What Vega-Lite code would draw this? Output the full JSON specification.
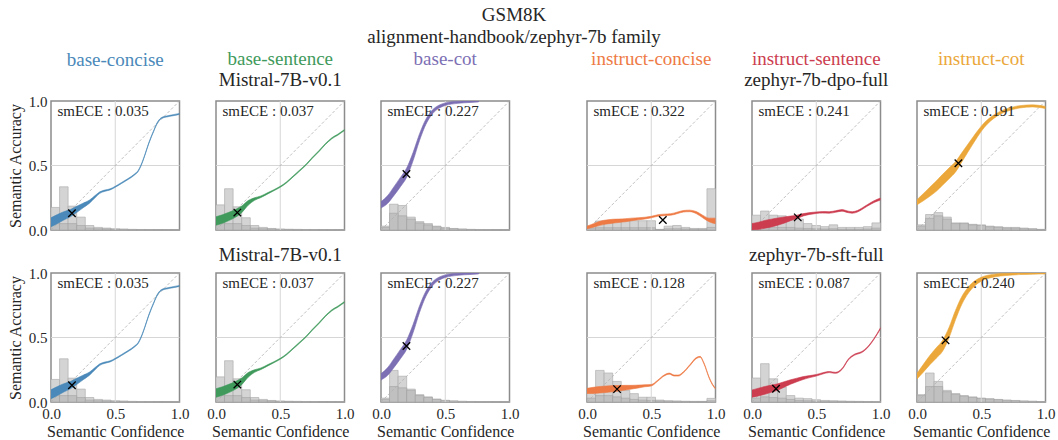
{
"$schema": "https://vega.github.io/schema/vega-lite/v6.json",
"background": "white",
"padding": {"left": 6, "top": 5, "right": 5, "bottom": 0},
"title": {"text": ["GSM8K", "alignment-handbook/zephyr-7b family"], "fontSize": 19, "lineHeight": 22, "offset": 2, "dx": -17, "color": "#262626", "anchor": "middle", "font": "Liberation Serif"},
"datasets": {
"hist": [
{"k":"bc","x0":0,"x1":0.0667,"h":0.175,"d":0.05},{"k":"bc","x0":0.0667,"x1":0.1333,"h":0.335,"d":0.05},{"k":"bc","x0":0.1333,"x1":0.2,"h":0.185,"d":0.05},{"k":"bc","x0":0.2,"x1":0.2667,"h":0.1,"d":0.035},{"k":"bc","x0":0.2667,"x1":0.3333,"h":0.035,"d":0.015},{"k":"bc","x0":0.3333,"x1":0.4,"h":0.02,"d":0.01},{"k":"bc","x0":0.4,"x1":0.4667,"h":0.015,"d":0.008},{"k":"bc","x0":0.4667,"x1":0.5333,"h":0.01,"d":0.005},{"k":"bc","x0":0.5333,"x1":0.6,"h":0.008,"d":0.004},{"k":"bc","x0":0.6,"x1":0.6667,"h":0.005,"d":0.003},{"k":"bc","x0":0.6667,"x1":0.7333,"h":0.004,"d":0.002},{"k":"bc","x0":0.7333,"x1":0.8,"h":0.003,"d":0.002},{"k":"bc","x0":0.8,"x1":0.8667,"h":0.002,"d":0.001},{"k":"bc","x0":0.8667,"x1":0.9333,"h":0.002,"d":0.001},{"k":"bc","x0":0.9333,"x1":1,"h":0.001,"d":0.001},
{"k":"bs","x0":0,"x1":0.0667,"h":0.195,"d":0.05},{"k":"bs","x0":0.0667,"x1":0.1333,"h":0.32,"d":0.05},{"k":"bs","x0":0.1333,"x1":0.2,"h":0.18,"d":0.05},{"k":"bs","x0":0.2,"x1":0.2667,"h":0.095,"d":0.035},{"k":"bs","x0":0.2667,"x1":0.3333,"h":0.035,"d":0.015},{"k":"bs","x0":0.3333,"x1":0.4,"h":0.02,"d":0.01},{"k":"bs","x0":0.4,"x1":0.4667,"h":0.012,"d":0.008},{"k":"bs","x0":0.4667,"x1":0.5333,"h":0.008,"d":0.005},{"k":"bs","x0":0.5333,"x1":0.6,"h":0.006,"d":0.004},{"k":"bs","x0":0.6,"x1":0.6667,"h":0.005,"d":0.003},{"k":"bs","x0":0.6667,"x1":0.7333,"h":0.004,"d":0.002},{"k":"bs","x0":0.7333,"x1":0.8,"h":0.003,"d":0.002},{"k":"bs","x0":0.8,"x1":0.8667,"h":0.002,"d":0.001},{"k":"bs","x0":0.8667,"x1":0.9333,"h":0.002,"d":0.001},{"k":"bs","x0":0.9333,"x1":1,"h":0.001,"d":0.001},
{"k":"bt","x0":0,"x1":0.0667,"h":0.03,"d":0.02},{"k":"bt","x0":0.0667,"x1":0.1333,"h":0.2,"d":0.13},{"k":"bt","x0":0.1333,"x1":0.2,"h":0.19,"d":0.11},{"k":"bt","x0":0.2,"x1":0.2667,"h":0.1,"d":0.085},{"k":"bt","x0":0.2667,"x1":0.3333,"h":0.065,"d":0.055},{"k":"bt","x0":0.3333,"x1":0.4,"h":0.05,"d":0.04},{"k":"bt","x0":0.4,"x1":0.4667,"h":0.03,"d":0.025},{"k":"bt","x0":0.4667,"x1":0.5333,"h":0.02,"d":0.015},{"k":"bt","x0":0.5333,"x1":0.6,"h":0.012,"d":0.01},{"k":"bt","x0":0.6,"x1":0.6667,"h":0.008,"d":0.006},{"k":"bt","x0":0.6667,"x1":0.7333,"h":0.005,"d":0.004},{"k":"bt","x0":0.7333,"x1":0.8,"h":0.004,"d":0.003},{"k":"bt","x0":0.8,"x1":0.8667,"h":0.003,"d":0.002},{"k":"bt","x0":0.8667,"x1":0.9333,"h":0.002,"d":0.001},{"k":"bt","x0":0.9333,"x1":1,"h":0.001,"d":0.001},
{"k":"bt2","x0":0,"x1":0.0667,"h":0.03,"d":0.02},{"k":"bt2","x0":0.0667,"x1":0.1333,"h":0.245,"d":0.12},{"k":"bt2","x0":0.1333,"x1":0.2,"h":0.2,"d":0.11},{"k":"bt2","x0":0.2,"x1":0.2667,"h":0.1,"d":0.09},{"k":"bt2","x0":0.2667,"x1":0.3333,"h":0.057,"d":0.05},{"k":"bt2","x0":0.3333,"x1":0.4,"h":0.04,"d":0.035},{"k":"bt2","x0":0.4,"x1":0.4667,"h":0.023,"d":0.02},{"k":"bt2","x0":0.4667,"x1":0.5333,"h":0.013,"d":0.012},{"k":"bt2","x0":0.5333,"x1":0.6,"h":0.008,"d":0.008},{"k":"bt2","x0":0.6,"x1":0.6667,"h":0.005,"d":0.005},{"k":"bt2","x0":0.6667,"x1":0.7333,"h":0.004,"d":0.004},{"k":"bt2","x0":0.7333,"x1":0.8,"h":0.003,"d":0.003},{"k":"bt2","x0":0.8,"x1":0.8667,"h":0.002,"d":0.002},{"k":"bt2","x0":0.8667,"x1":0.9333,"h":0.001,"d":0.001},{"k":"bt2","x0":0.9333,"x1":1,"h":0.001,"d":0.001},
{"k":"dc","x0":0,"x1":0.0667,"h":0.03,"d":0.015},{"k":"dc","x0":0.0667,"x1":0.1333,"h":0.07,"d":0.018},{"k":"dc","x0":0.1333,"x1":0.2,"h":0.072,"d":0.018},{"k":"dc","x0":0.2,"x1":0.2667,"h":0.072,"d":0.018},{"k":"dc","x0":0.2667,"x1":0.3333,"h":0.072,"d":0.018},{"k":"dc","x0":0.3333,"x1":0.4,"h":0.072,"d":0.018},{"k":"dc","x0":0.4,"x1":0.4667,"h":0.072,"d":0.018},{"k":"dc","x0":0.4667,"x1":0.5333,"h":0.072,"d":0.018},{"k":"dc","x0":0.5333,"x1":0.6,"h":0.005,"d":0.003},{"k":"dc","x0":0.6,"x1":0.6667,"h":0.03,"d":0.01},{"k":"dc","x0":0.6667,"x1":0.7333,"h":0.035,"d":0.01},{"k":"dc","x0":0.7333,"x1":0.8,"h":0.02,"d":0.008},{"k":"dc","x0":0.8,"x1":0.8667,"h":0.012,"d":0.006},{"k":"dc","x0":0.8667,"x1":0.9333,"h":0.012,"d":0.006},{"k":"dc","x0":0.9333,"x1":1,"h":0.32,"d":0.02},
{"k":"ds","x0":0,"x1":0.0667,"h":0.115,"d":0.02},{"k":"ds","x0":0.0667,"x1":0.1333,"h":0.147,"d":0.025},{"k":"ds","x0":0.1333,"x1":0.2,"h":0.115,"d":0.02},{"k":"ds","x0":0.2,"x1":0.2667,"h":0.11,"d":0.02},{"k":"ds","x0":0.2667,"x1":0.3333,"h":0.085,"d":0.02},{"k":"ds","x0":0.3333,"x1":0.4,"h":0.085,"d":0.015},{"k":"ds","x0":0.4,"x1":0.4667,"h":0.05,"d":0.012},{"k":"ds","x0":0.4667,"x1":0.5333,"h":0.035,"d":0.01},{"k":"ds","x0":0.5333,"x1":0.6,"h":0.026,"d":0.008},{"k":"ds","x0":0.6,"x1":0.6667,"h":0.04,"d":0.01},{"k":"ds","x0":0.6667,"x1":0.7333,"h":0.02,"d":0.006},{"k":"ds","x0":0.7333,"x1":0.8,"h":0.02,"d":0.006},{"k":"ds","x0":0.8,"x1":0.8667,"h":0.02,"d":0.006},{"k":"ds","x0":0.8667,"x1":0.9333,"h":0.026,"d":0.008},{"k":"ds","x0":0.9333,"x1":1,"h":0.055,"d":0.015},
{"k":"dt","x0":0,"x1":0.0667,"h":0.04,"d":0.03},{"k":"dt","x0":0.0667,"x1":0.1333,"h":0.12,"d":0.09},{"k":"dt","x0":0.1333,"x1":0.2,"h":0.135,"d":0.11},{"k":"dt","x0":0.2,"x1":0.2667,"h":0.1,"d":0.085},{"k":"dt","x0":0.2667,"x1":0.3333,"h":0.055,"d":0.05},{"k":"dt","x0":0.3333,"x1":0.4,"h":0.055,"d":0.05},{"k":"dt","x0":0.4,"x1":0.4667,"h":0.044,"d":0.04},{"k":"dt","x0":0.4667,"x1":0.5333,"h":0.04,"d":0.035},{"k":"dt","x0":0.5333,"x1":0.6,"h":0.03,"d":0.025},{"k":"dt","x0":0.6,"x1":0.6667,"h":0.026,"d":0.02},{"k":"dt","x0":0.6667,"x1":0.7333,"h":0.02,"d":0.015},{"k":"dt","x0":0.7333,"x1":0.8,"h":0.02,"d":0.015},{"k":"dt","x0":0.8,"x1":0.8667,"h":0.015,"d":0.01},{"k":"dt","x0":0.8667,"x1":0.9333,"h":0.01,"d":0.008},{"k":"dt","x0":0.9333,"x1":1,"h":0.005,"d":0.004},
{"k":"sc","x0":0,"x1":0.0667,"h":0.1,"d":0.03},{"k":"sc","x0":0.0667,"x1":0.1333,"h":0.245,"d":0.05},{"k":"sc","x0":0.1333,"x1":0.2,"h":0.225,"d":0.05},{"k":"sc","x0":0.2,"x1":0.2667,"h":0.16,"d":0.04},{"k":"sc","x0":0.2667,"x1":0.3333,"h":0.09,"d":0.03},{"k":"sc","x0":0.3333,"x1":0.4,"h":0.065,"d":0.02},{"k":"sc","x0":0.4,"x1":0.4667,"h":0.037,"d":0.015},{"k":"sc","x0":0.4667,"x1":0.5333,"h":0.037,"d":0.012},{"k":"sc","x0":0.5333,"x1":0.6,"h":0.015,"d":0.008},{"k":"sc","x0":0.6,"x1":0.6667,"h":0.01,"d":0.006},{"k":"sc","x0":0.6667,"x1":0.7333,"h":0.008,"d":0.005},{"k":"sc","x0":0.7333,"x1":0.8,"h":0.006,"d":0.004},{"k":"sc","x0":0.8,"x1":0.8667,"h":0.005,"d":0.003},{"k":"sc","x0":0.8667,"x1":0.9333,"h":0.005,"d":0.003},{"k":"sc","x0":0.9333,"x1":1,"h":0.028,"d":0.01},
{"k":"ss","x0":0,"x1":0.0667,"h":0.186,"d":0.03},{"k":"ss","x0":0.0667,"x1":0.1333,"h":0.297,"d":0.04},{"k":"ss","x0":0.1333,"x1":0.2,"h":0.18,"d":0.035},{"k":"ss","x0":0.2,"x1":0.2667,"h":0.116,"d":0.03},{"k":"ss","x0":0.2667,"x1":0.3333,"h":0.05,"d":0.02},{"k":"ss","x0":0.3333,"x1":0.4,"h":0.03,"d":0.012},{"k":"ss","x0":0.4,"x1":0.4667,"h":0.026,"d":0.01},{"k":"ss","x0":0.4667,"x1":0.5333,"h":0.018,"d":0.008},{"k":"ss","x0":0.5333,"x1":0.6,"h":0.012,"d":0.006},{"k":"ss","x0":0.6,"x1":0.6667,"h":0.01,"d":0.005},{"k":"ss","x0":0.6667,"x1":0.7333,"h":0.008,"d":0.004},{"k":"ss","x0":0.7333,"x1":0.8,"h":0.006,"d":0.003},{"k":"ss","x0":0.8,"x1":0.8667,"h":0.005,"d":0.003},{"k":"ss","x0":0.8667,"x1":0.9333,"h":0.004,"d":0.002},{"k":"ss","x0":0.9333,"x1":1,"h":0.004,"d":0.002},
{"k":"st","x0":0,"x1":0.0667,"h":0.057,"d":0.05},{"k":"st","x0":0.0667,"x1":0.1333,"h":0.225,"d":0.12},{"k":"st","x0":0.1333,"x1":0.2,"h":0.16,"d":0.12},{"k":"st","x0":0.2,"x1":0.2667,"h":0.09,"d":0.08},{"k":"st","x0":0.2667,"x1":0.3333,"h":0.065,"d":0.06},{"k":"st","x0":0.3333,"x1":0.4,"h":0.05,"d":0.045},{"k":"st","x0":0.4,"x1":0.4667,"h":0.04,"d":0.035},{"k":"st","x0":0.4667,"x1":0.5333,"h":0.03,"d":0.028},{"k":"st","x0":0.5333,"x1":0.6,"h":0.026,"d":0.022},{"k":"st","x0":0.6,"x1":0.6667,"h":0.02,"d":0.018},{"k":"st","x0":0.6667,"x1":0.7333,"h":0.015,"d":0.013},{"k":"st","x0":0.7333,"x1":0.8,"h":0.012,"d":0.01},{"k":"st","x0":0.8,"x1":0.8667,"h":0.008,"d":0.007},{"k":"st","x0":0.8667,"x1":0.9333,"h":0.006,"d":0.005},{"k":"st","x0":0.9333,"x1":1,"h":0.004,"d":0.003}
],
"curve": [
{"k":"bc","x":0,"lo":0.025,"hi":0.095},{"k":"bc","x":0.05,"lo":0.05,"hi":0.12},{"k":"bc","x":0.1,"lo":0.078,"hi":0.142},{"k":"bc","x":0.15,"lo":0.102,"hi":0.158},{"k":"bc","x":0.2,"lo":0.136,"hi":0.184},{"k":"bc","x":0.25,"lo":0.172,"hi":0.208},{"k":"bc","x":0.3,"lo":0.208,"hi":0.232},{"k":"bc","x":0.35,"lo":0.257,"hi":0.273},{"k":"bc","x":0.38,"lo":0.284,"hi":0.296},{"k":"bc","x":0.42,"lo":0.3,"hi":0.31},{"k":"bc","x":0.46,"lo":0.311,"hi":0.319},{"k":"bc","x":0.5,"lo":0.331,"hi":0.339},{"k":"bc","x":0.55,"lo":0.361,"hi":0.369},{"k":"bc","x":0.6,"lo":0.391,"hi":0.399},{"k":"bc","x":0.65,"lo":0.426,"hi":0.434},{"k":"bc","x":0.68,"lo":0.456,"hi":0.464},{"k":"bc","x":0.7,"lo":0.496,"hi":0.504},{"k":"bc","x":0.73,"lo":0.576,"hi":0.584},{"k":"bc","x":0.76,"lo":0.666,"hi":0.674},{"k":"bc","x":0.8,"lo":0.766,"hi":0.774},{"k":"bc","x":0.83,"lo":0.831,"hi":0.839},{"k":"bc","x":0.86,"lo":0.864,"hi":0.872},{"k":"bc","x":0.9,"lo":0.876,"hi":0.884},{"k":"bc","x":0.95,"lo":0.886,"hi":0.894},{"k":"bc","x":1,"lo":0.896,"hi":0.904},
{"k":"bs","x":0,"lo":0.037,"hi":0.103},{"k":"bs","x":0.05,"lo":0.052,"hi":0.118},{"k":"bs","x":0.1,"lo":0.073,"hi":0.137},{"k":"bs","x":0.15,"lo":0.098,"hi":0.158},{"k":"bs","x":0.2,"lo":0.134,"hi":0.186},{"k":"bs","x":0.25,"lo":0.192,"hi":0.228},{"k":"bs","x":0.3,"lo":0.23,"hi":0.25},{"k":"bs","x":0.35,"lo":0.252,"hi":0.264},{"k":"bs","x":0.4,"lo":0.278,"hi":0.288},{"k":"bs","x":0.45,"lo":0.304,"hi":0.312},{"k":"bs","x":0.5,"lo":0.331,"hi":0.339},{"k":"bs","x":0.55,"lo":0.366,"hi":0.374},{"k":"bs","x":0.6,"lo":0.411,"hi":0.419},{"k":"bs","x":0.65,"lo":0.456,"hi":0.464},{"k":"bs","x":0.7,"lo":0.501,"hi":0.509},{"k":"bs","x":0.75,"lo":0.556,"hi":0.564},{"k":"bs","x":0.8,"lo":0.606,"hi":0.614},{"k":"bs","x":0.85,"lo":0.661,"hi":0.669},{"k":"bs","x":0.9,"lo":0.706,"hi":0.714},{"k":"bs","x":0.95,"lo":0.736,"hi":0.744},{"k":"bs","x":1,"lo":0.771,"hi":0.779},
{"k":"bt","x":0,"lo":0.17,"hi":0.22},{"k":"bt","x":0.05,"lo":0.205,"hi":0.265},{"k":"bt","x":0.1,"lo":0.266,"hi":0.334},{"k":"bt","x":0.15,"lo":0.334,"hi":0.406},{"k":"bt","x":0.2,"lo":0.409,"hi":0.481},{"k":"bt","x":0.25,"lo":0.538,"hi":0.602},{"k":"bt","x":0.3,"lo":0.694,"hi":0.746},{"k":"bt","x":0.35,"lo":0.82,"hi":0.86},{"k":"bt","x":0.4,"lo":0.9,"hi":0.93},{"k":"bt","x":0.45,"lo":0.943,"hi":0.967},{"k":"bt","x":0.5,"lo":0.965,"hi":0.985},{"k":"bt","x":0.6,"lo":0.982,"hi":0.998},{"k":"bt","x":0.7,"lo":0.989,"hi":1},{"k":"bt","x":0.76,"lo":0.993,"hi":1},
{"k":"dc","x":0,"lo":0.01,"hi":0.03},{"k":"dc","x":0.05,"lo":0.021,"hi":0.049},{"k":"dc","x":0.1,"lo":0.036,"hi":0.068},{"k":"dc","x":0.15,"lo":0.046,"hi":0.078},{"k":"dc","x":0.2,"lo":0.053,"hi":0.083},{"k":"dc","x":0.25,"lo":0.059,"hi":0.085},{"k":"dc","x":0.3,"lo":0.064,"hi":0.088},{"k":"dc","x":0.35,"lo":0.072,"hi":0.092},{"k":"dc","x":0.4,"lo":0.079,"hi":0.095},{"k":"dc","x":0.45,"lo":0.085,"hi":0.099},{"k":"dc","x":0.5,"lo":0.094,"hi":0.106},{"k":"dc","x":0.55,"lo":0.106,"hi":0.118},{"k":"dc","x":0.6,"lo":0.111,"hi":0.123},{"k":"dc","x":0.65,"lo":0.114,"hi":0.126},{"k":"dc","x":0.7,"lo":0.126,"hi":0.138},{"k":"dc","x":0.75,"lo":0.139,"hi":0.151},{"k":"dc","x":0.8,"lo":0.142,"hi":0.154},{"k":"dc","x":0.85,"lo":0.127,"hi":0.143},{"k":"dc","x":0.9,"lo":0.095,"hi":0.115},{"k":"dc","x":0.95,"lo":0.064,"hi":0.092},{"k":"dc","x":1,"lo":0.048,"hi":0.092},
{"k":"ds","x":0,"lo":0,"hi":0.05},{"k":"ds","x":0.05,"lo":0.004,"hi":0.06},{"k":"ds","x":0.1,"lo":0.014,"hi":0.074},{"k":"ds","x":0.15,"lo":0.024,"hi":0.084},{"k":"ds","x":0.2,"lo":0.037,"hi":0.093},{"k":"ds","x":0.25,"lo":0.053,"hi":0.101},{"k":"ds","x":0.3,"lo":0.072,"hi":0.108},{"k":"ds","x":0.35,"lo":0.089,"hi":0.115},{"k":"ds","x":0.4,"lo":0.109,"hi":0.127},{"k":"ds","x":0.45,"lo":0.121,"hi":0.135},{"k":"ds","x":0.5,"lo":0.128,"hi":0.14},{"k":"ds","x":0.55,"lo":0.131,"hi":0.143},{"k":"ds","x":0.6,"lo":0.13,"hi":0.142},{"k":"ds","x":0.65,"lo":0.137,"hi":0.149},{"k":"ds","x":0.7,"lo":0.146,"hi":0.158},{"k":"ds","x":0.75,"lo":0.134,"hi":0.146},{"k":"ds","x":0.78,"lo":0.13,"hi":0.142},{"k":"ds","x":0.82,"lo":0.139,"hi":0.151},{"k":"ds","x":0.86,"lo":0.161,"hi":0.173},{"k":"ds","x":0.9,"lo":0.186,"hi":0.198},{"k":"ds","x":0.95,"lo":0.213,"hi":0.227},{"k":"ds","x":1,"lo":0.232,"hi":0.248},
{"k":"dt","x":0,"lo":0.195,"hi":0.235},{"k":"dt","x":0.05,"lo":0.227,"hi":0.283},{"k":"dt","x":0.1,"lo":0.262,"hi":0.332},{"k":"dt","x":0.15,"lo":0.3,"hi":0.38},{"k":"dt","x":0.2,"lo":0.348,"hi":0.432},{"k":"dt","x":0.25,"lo":0.398,"hi":0.482},{"k":"dt","x":0.3,"lo":0.45,"hi":0.53},{"k":"dt","x":0.35,"lo":0.53,"hi":0.6},{"k":"dt","x":0.4,"lo":0.61,"hi":0.67},{"k":"dt","x":0.45,"lo":0.69,"hi":0.74},{"k":"dt","x":0.5,"lo":0.765,"hi":0.805},{"k":"dt","x":0.55,"lo":0.824,"hi":0.856},{"k":"dt","x":0.6,"lo":0.867,"hi":0.893},{"k":"dt","x":0.65,"lo":0.899,"hi":0.921},{"k":"dt","x":0.7,"lo":0.92,"hi":0.94},{"k":"dt","x":0.8,"lo":0.946,"hi":0.964},{"k":"dt","x":0.9,"lo":0.954,"hi":0.97},{"k":"dt","x":1,"lo":0.942,"hi":0.958},
{"k":"sc","x":0,"lo":0.066,"hi":0.106},{"k":"sc","x":0.05,"lo":0.066,"hi":0.114},{"k":"sc","x":0.1,"lo":0.07,"hi":0.12},{"k":"sc","x":0.15,"lo":0.074,"hi":0.124},{"k":"sc","x":0.2,"lo":0.079,"hi":0.127},{"k":"sc","x":0.25,"lo":0.086,"hi":0.128},{"k":"sc","x":0.3,"lo":0.093,"hi":0.129},{"k":"sc","x":0.35,"lo":0.101,"hi":0.129},{"k":"sc","x":0.4,"lo":0.109,"hi":0.131},{"k":"sc","x":0.45,"lo":0.118,"hi":0.134},{"k":"sc","x":0.5,"lo":0.124,"hi":0.136},{"k":"sc","x":0.55,"lo":0.161,"hi":0.169},{"k":"sc","x":0.6,"lo":0.201,"hi":0.209},{"k":"sc","x":0.64,"lo":0.216,"hi":0.224},{"k":"sc","x":0.68,"lo":0.201,"hi":0.209},{"k":"sc","x":0.71,"lo":0.201,"hi":0.209},{"k":"sc","x":0.75,"lo":0.226,"hi":0.234},{"k":"sc","x":0.8,"lo":0.281,"hi":0.289},{"k":"sc","x":0.85,"lo":0.336,"hi":0.344},{"k":"sc","x":0.88,"lo":0.346,"hi":0.354},{"k":"sc","x":0.91,"lo":0.296,"hi":0.304},{"k":"sc","x":0.95,"lo":0.186,"hi":0.194},{"k":"sc","x":0.98,"lo":0.126,"hi":0.134},{"k":"sc","x":1,"lo":0.101,"hi":0.109},
{"k":"ss","x":0,"lo":0.037,"hi":0.093},{"k":"ss","x":0.05,"lo":0.047,"hi":0.107},{"k":"ss","x":0.1,"lo":0.06,"hi":0.12},{"k":"ss","x":0.15,"lo":0.075,"hi":0.131},{"k":"ss","x":0.2,"lo":0.091,"hi":0.141},{"k":"ss","x":0.25,"lo":0.115,"hi":0.157},{"k":"ss","x":0.3,"lo":0.138,"hi":0.172},{"k":"ss","x":0.35,"lo":0.157,"hi":0.185},{"k":"ss","x":0.4,"lo":0.175,"hi":0.197},{"k":"ss","x":0.45,"lo":0.189,"hi":0.205},{"k":"ss","x":0.5,"lo":0.201,"hi":0.213},{"k":"ss","x":0.55,"lo":0.217,"hi":0.227},{"k":"ss","x":0.6,"lo":0.228,"hi":0.236},{"k":"ss","x":0.65,"lo":0.222,"hi":0.23},{"k":"ss","x":0.7,"lo":0.251,"hi":0.259},{"k":"ss","x":0.75,"lo":0.326,"hi":0.334},{"k":"ss","x":0.8,"lo":0.364,"hi":0.372},{"k":"ss","x":0.85,"lo":0.381,"hi":0.389},{"k":"ss","x":0.9,"lo":0.421,"hi":0.429},{"k":"ss","x":0.95,"lo":0.486,"hi":0.494},{"k":"ss","x":1,"lo":0.568,"hi":0.576},
{"k":"st","x":0,"lo":0.178,"hi":0.222},{"k":"st","x":0.05,"lo":0.232,"hi":0.292},{"k":"st","x":0.1,"lo":0.289,"hi":0.361},{"k":"st","x":0.15,"lo":0.34,"hi":0.42},{"k":"st","x":0.2,"lo":0.395,"hi":0.479},{"k":"st","x":0.25,"lo":0.5,"hi":0.58},{"k":"st","x":0.3,"lo":0.639,"hi":0.711},{"k":"st","x":0.35,"lo":0.76,"hi":0.82},{"k":"st","x":0.4,"lo":0.844,"hi":0.892},{"k":"st","x":0.45,"lo":0.901,"hi":0.939},{"k":"st","x":0.5,"lo":0.937,"hi":0.967},{"k":"st","x":0.6,"lo":0.969,"hi":0.991},{"k":"st","x":0.7,"lo":0.981,"hi":0.999},{"k":"st","x":0.8,"lo":0.988,"hi":1},{"k":"st","x":0.9,"lo":0.991,"hi":1},{"k":"st","x":1,"lo":0.993,"hi":1}
],
"marker": [
{"k":"bc","x":0.163,"y":0.13,"label":"smECE : 0.035"},
{"k":"bs","x":0.166,"y":0.135,"label":"smECE : 0.037"},
{"k":"bt","x":0.198,"y":0.434,"label":"smECE : 0.227"},
{"k":"dc","x":0.59,"y":0.078,"label":"smECE : 0.322"},
{"k":"ds","x":0.356,"y":0.098,"label":"smECE : 0.241"},
{"k":"dt","x":0.322,"y":0.517,"label":"smECE : 0.191"},
{"k":"sc","x":0.234,"y":0.1,"label":"smECE : 0.128"},
{"k":"ss","x":0.187,"y":0.103,"label":"smECE : 0.087"},
{"k":"st","x":0.222,"y":0.478,"label":"smECE : 0.240"}
]
},
"columns": 7,
"spacing": {"row": 43, "column": 36},
"bounds": "flush",
"align": "each",
"concat": [
{"width": 128.5, "height": 129, "title": {"text": "base-concise", "subtitle": " ", "color": "#4a89b9", "font": "Liberation Serif", "subtitleFont": "Liberation Serif", "offset": 3.5},
 "layer": [
  {"data": {"name": "hist"}, "transform": [{"filter": "datum.k === 'bc'"}], "mark": {"type": "rect", "fill": "#d4d4d4", "stroke": "#a8a8a8", "strokeWidth": 0.6},
   "encoding": {"x": {"field": "x0", "type": "quantitative", "scale": {"domain": [0, 1], "nice": false}, "axis": null}, "x2": {"field": "x1"},
    "y": {"field": "h", "type": "quantitative", "scale": {"domain": [0, 1], "nice": false}, "axis": {"values": [0, 0.5, 1], "format": ".1f", "title": "Semantic Accuracy", "ticks": false, "domain": false, "grid": false, "labelPadding": 4, "titlePadding": 5, "labelFlush": false}}, "y2": {"datum": 0}}},
  {"data": {"name": "hist"}, "transform": [{"filter": "datum.k === 'bc'"}], "mark": {"type": "rect", "fill": "#c0c0c0", "stroke": "#9c9c9c", "strokeWidth": 0.5},
   "encoding": {"x": {"field": "x0", "type": "quantitative", "axis": null}, "x2": {"field": "x1"}, "y": {"field": "d", "type": "quantitative"}, "y2": {"datum": 0}}},
  {"data": {"values": [{}]}, "mark": {"type": "rule", "color": "#d6d6d6", "strokeWidth": 1}, "encoding": {"x": {"datum": 0.5, "type": "quantitative", "axis": null}}},
  {"data": {"values": [{}]}, "mark": {"type": "rule", "color": "#d6d6d6", "strokeWidth": 1}, "encoding": {"y": {"datum": 0.5, "type": "quantitative"}}},
  {"data": {"values": [{}]}, "mark": {"type": "rule", "color": "#b0b0b0", "strokeWidth": 0.8, "strokeDash": [3, 2]}, "encoding": {"x": {"datum": 0, "type": "quantitative", "axis": null}, "y": {"datum": 0, "type": "quantitative"}, "x2": {"datum": 1}, "y2": {"datum": 1}}},
  {"data": {"name": "curve"}, "transform": [{"filter": "datum.k === 'bc'"}], "mark": {"type": "area", "interpolate": "monotone", "color": "#4a89b9", "stroke": "#4a89b9", "strokeWidth": 0.6, "clip": true},
   "encoding": {"x": {"field": "x", "type": "quantitative", "axis": null}, "y": {"field": "lo", "type": "quantitative"}, "y2": {"field": "hi"}}},
  {"data": {"name": "marker"}, "transform": [{"filter": "datum.k === 'bc'"}], "mark": {"type": "point", "shape": "M-1,-1L1,1M1,-1L-1,1", "filled": false, "stroke": "#000000", "strokeWidth": 1.3, "size": 56, "opacity": 1},
   "encoding": {"x": {"field": "x", "type": "quantitative", "axis": null}, "y": {"field": "y", "type": "quantitative"}}},
  {"data": {"name": "marker"}, "transform": [{"filter": "datum.k === 'bc'"}], "mark": {"type": "text", "align": "left", "baseline": "middle", "fontSize": 15, "color": "#262626", "font": "Liberation Serif"},
   "encoding": {"x": {"datum": 0.05, "type": "quantitative", "axis": null}, "y": {"datum": 0.92, "type": "quantitative"}, "text": {"field": "label"}}}
 ]},
{"width": 128.5, "height": 129, "title": {"text": "base-sentence", "subtitle": "Mistral-7B-v0.1", "color": "#3f9a5c", "font": "Liberation Serif", "subtitleFont": "Liberation Serif"},
 "layer": [
  {"data": {"name": "hist"}, "transform": [{"filter": "datum.k === 'bs'"}], "mark": {"type": "rect", "fill": "#d4d4d4", "stroke": "#a8a8a8", "strokeWidth": 0.6},
   "encoding": {"x": {"field": "x0", "type": "quantitative", "scale": {"domain": [0, 1], "nice": false}, "axis": null}, "x2": {"field": "x1"}, "y": {"field": "h", "type": "quantitative", "scale": {"domain": [0, 1], "nice": false}, "axis": null}, "y2": {"datum": 0}}},
  {"data": {"name": "hist"}, "transform": [{"filter": "datum.k === 'bs'"}], "mark": {"type": "rect", "fill": "#c0c0c0", "stroke": "#9c9c9c", "strokeWidth": 0.5},
   "encoding": {"x": {"field": "x0", "type": "quantitative", "axis": null}, "x2": {"field": "x1"}, "y": {"field": "d", "type": "quantitative", "axis": null}, "y2": {"datum": 0}}},
  {"data": {"values": [{}]}, "mark": {"type": "rule", "color": "#d6d6d6", "strokeWidth": 1}, "encoding": {"x": {"datum": 0.5, "type": "quantitative", "axis": null}}},
  {"data": {"values": [{}]}, "mark": {"type": "rule", "color": "#d6d6d6", "strokeWidth": 1}, "encoding": {"y": {"datum": 0.5, "type": "quantitative", "axis": null}}},
  {"data": {"values": [{}]}, "mark": {"type": "rule", "color": "#b0b0b0", "strokeWidth": 0.8, "strokeDash": [3, 2]}, "encoding": {"x": {"datum": 0, "type": "quantitative", "axis": null}, "y": {"datum": 0, "type": "quantitative", "axis": null}, "x2": {"datum": 1}, "y2": {"datum": 1}}},
  {"data": {"name": "curve"}, "transform": [{"filter": "datum.k === 'bs'"}], "mark": {"type": "area", "interpolate": "monotone", "color": "#3f9a5c", "stroke": "#3f9a5c", "strokeWidth": 0.6, "clip": true},
   "encoding": {"x": {"field": "x", "type": "quantitative", "axis": null}, "y": {"field": "lo", "type": "quantitative", "axis": null}, "y2": {"field": "hi"}}},
  {"data": {"name": "marker"}, "transform": [{"filter": "datum.k === 'bs'"}], "mark": {"type": "point", "shape": "M-1,-1L1,1M1,-1L-1,1", "filled": false, "stroke": "#000000", "strokeWidth": 1.3, "size": 56, "opacity": 1},
   "encoding": {"x": {"field": "x", "type": "quantitative", "axis": null}, "y": {"field": "y", "type": "quantitative", "axis": null}}},
  {"data": {"name": "marker"}, "transform": [{"filter": "datum.k === 'bs'"}], "mark": {"type": "text", "align": "left", "baseline": "middle", "fontSize": 15, "color": "#262626", "font": "Liberation Serif"},
   "encoding": {"x": {"datum": 0.05, "type": "quantitative", "axis": null}, "y": {"datum": 0.92, "type": "quantitative", "axis": null}, "text": {"field": "label"}}}
 ]},
{"width": 128.5, "height": 129, "title": {"text": "base-cot", "subtitle": " ", "color": "#7c6fb4", "font": "Liberation Serif", "subtitleFont": "Liberation Serif"},
 "layer": [
  {"data": {"name": "hist"}, "transform": [{"filter": "datum.k === 'bt'"}], "mark": {"type": "rect", "fill": "#d4d4d4", "stroke": "#a8a8a8", "strokeWidth": 0.6},
   "encoding": {"x": {"field": "x0", "type": "quantitative", "scale": {"domain": [0, 1], "nice": false}, "axis": null}, "x2": {"field": "x1"}, "y": {"field": "h", "type": "quantitative", "scale": {"domain": [0, 1], "nice": false}, "axis": null}, "y2": {"datum": 0}}},
  {"data": {"name": "hist"}, "transform": [{"filter": "datum.k === 'bt'"}], "mark": {"type": "rect", "fill": "#c0c0c0", "stroke": "#9c9c9c", "strokeWidth": 0.5},
   "encoding": {"x": {"field": "x0", "type": "quantitative", "axis": null}, "x2": {"field": "x1"}, "y": {"field": "d", "type": "quantitative", "axis": null}, "y2": {"datum": 0}}},
  {"data": {"values": [{}]}, "mark": {"type": "rule", "color": "#d6d6d6", "strokeWidth": 1}, "encoding": {"x": {"datum": 0.5, "type": "quantitative", "axis": null}}},
  {"data": {"values": [{}]}, "mark": {"type": "rule", "color": "#d6d6d6", "strokeWidth": 1}, "encoding": {"y": {"datum": 0.5, "type": "quantitative", "axis": null}}},
  {"data": {"values": [{}]}, "mark": {"type": "rule", "color": "#b0b0b0", "strokeWidth": 0.8, "strokeDash": [3, 2]}, "encoding": {"x": {"datum": 0, "type": "quantitative", "axis": null}, "y": {"datum": 0, "type": "quantitative", "axis": null}, "x2": {"datum": 1}, "y2": {"datum": 1}}},
  {"data": {"name": "curve"}, "transform": [{"filter": "datum.k === 'bt'"}], "mark": {"type": "area", "interpolate": "monotone", "color": "#7c6fb4", "stroke": "#7c6fb4", "strokeWidth": 0.6, "clip": true},
   "encoding": {"x": {"field": "x", "type": "quantitative", "axis": null}, "y": {"field": "lo", "type": "quantitative", "axis": null}, "y2": {"field": "hi"}}},
  {"data": {"name": "marker"}, "transform": [{"filter": "datum.k === 'bt'"}], "mark": {"type": "point", "shape": "M-1,-1L1,1M1,-1L-1,1", "filled": false, "stroke": "#000000", "strokeWidth": 1.3, "size": 56, "opacity": 1},
   "encoding": {"x": {"field": "x", "type": "quantitative", "axis": null}, "y": {"field": "y", "type": "quantitative", "axis": null}}},
  {"data": {"name": "marker"}, "transform": [{"filter": "datum.k === 'bt'"}], "mark": {"type": "text", "align": "left", "baseline": "middle", "fontSize": 15, "color": "#262626", "font": "Liberation Serif"},
   "encoding": {"x": {"datum": 0.05, "type": "quantitative", "axis": null}, "y": {"datum": 0.92, "type": "quantitative", "axis": null}, "text": {"field": "label"}}}
 ]},
{"width": 4.5, "height": 129, "view": {"stroke": null}, "data": {"values": [{"t": ""}]}, "mark": {"type": "text"}, "encoding": {"text": {"field": "t"}}},
{"width": 128.5, "height": 129, "title": {"text": "instruct-concise", "subtitle": " ", "color": "#ee7a45", "font": "Liberation Serif", "subtitleFont": "Liberation Serif"},
 "layer": [
  {"data": {"name": "hist"}, "transform": [{"filter": "datum.k === 'dc'"}], "mark": {"type": "rect", "fill": "#d4d4d4", "stroke": "#a8a8a8", "strokeWidth": 0.6},
   "encoding": {"x": {"field": "x0", "type": "quantitative", "scale": {"domain": [0, 1], "nice": false}, "axis": null}, "x2": {"field": "x1"}, "y": {"field": "h", "type": "quantitative", "scale": {"domain": [0, 1], "nice": false}, "axis": null}, "y2": {"datum": 0}}},
  {"data": {"name": "hist"}, "transform": [{"filter": "datum.k === 'dc'"}], "mark": {"type": "rect", "fill": "#c0c0c0", "stroke": "#9c9c9c", "strokeWidth": 0.5},
   "encoding": {"x": {"field": "x0", "type": "quantitative", "axis": null}, "x2": {"field": "x1"}, "y": {"field": "d", "type": "quantitative", "axis": null}, "y2": {"datum": 0}}},
  {"data": {"values": [{}]}, "mark": {"type": "rule", "color": "#d6d6d6", "strokeWidth": 1}, "encoding": {"x": {"datum": 0.5, "type": "quantitative", "axis": null}}},
  {"data": {"values": [{}]}, "mark": {"type": "rule", "color": "#d6d6d6", "strokeWidth": 1}, "encoding": {"y": {"datum": 0.5, "type": "quantitative", "axis": null}}},
  {"data": {"values": [{}]}, "mark": {"type": "rule", "color": "#b0b0b0", "strokeWidth": 0.8, "strokeDash": [3, 2]}, "encoding": {"x": {"datum": 0, "type": "quantitative", "axis": null}, "y": {"datum": 0, "type": "quantitative", "axis": null}, "x2": {"datum": 1}, "y2": {"datum": 1}}},
  {"data": {"name": "curve"}, "transform": [{"filter": "datum.k === 'dc'"}], "mark": {"type": "area", "interpolate": "monotone", "color": "#ee7a45", "stroke": "#ee7a45", "strokeWidth": 0.6, "clip": true},
   "encoding": {"x": {"field": "x", "type": "quantitative", "axis": null}, "y": {"field": "lo", "type": "quantitative", "axis": null}, "y2": {"field": "hi"}}},
  {"data": {"name": "marker"}, "transform": [{"filter": "datum.k === 'dc'"}], "mark": {"type": "point", "shape": "M-1,-1L1,1M1,-1L-1,1", "filled": false, "stroke": "#000000", "strokeWidth": 1.3, "size": 56, "opacity": 1},
   "encoding": {"x": {"field": "x", "type": "quantitative", "axis": null}, "y": {"field": "y", "type": "quantitative", "axis": null}}},
  {"data": {"name": "marker"}, "transform": [{"filter": "datum.k === 'dc'"}], "mark": {"type": "text", "align": "left", "baseline": "middle", "fontSize": 15, "color": "#262626", "font": "Liberation Serif"},
   "encoding": {"x": {"datum": 0.05, "type": "quantitative", "axis": null}, "y": {"datum": 0.92, "type": "quantitative", "axis": null}, "text": {"field": "label"}}}
 ]},
{"width": 128.5, "height": 129, "title": {"text": "instruct-sentence", "subtitle": "zephyr-7b-dpo-full", "color": "#cc3d50", "font": "Liberation Serif", "subtitleFont": "Liberation Serif"},
 "layer": [
  {"data": {"name": "hist"}, "transform": [{"filter": "datum.k === 'ds'"}], "mark": {"type": "rect", "fill": "#d4d4d4", "stroke": "#a8a8a8", "strokeWidth": 0.6},
   "encoding": {"x": {"field": "x0", "type": "quantitative", "scale": {"domain": [0, 1], "nice": false}, "axis": null}, "x2": {"field": "x1"}, "y": {"field": "h", "type": "quantitative", "scale": {"domain": [0, 1], "nice": false}, "axis": null}, "y2": {"datum": 0}}},
  {"data": {"name": "hist"}, "transform": [{"filter": "datum.k === 'ds'"}], "mark": {"type": "rect", "fill": "#c0c0c0", "stroke": "#9c9c9c", "strokeWidth": 0.5},
   "encoding": {"x": {"field": "x0", "type": "quantitative", "axis": null}, "x2": {"field": "x1"}, "y": {"field": "d", "type": "quantitative", "axis": null}, "y2": {"datum": 0}}},
  {"data": {"values": [{}]}, "mark": {"type": "rule", "color": "#d6d6d6", "strokeWidth": 1}, "encoding": {"x": {"datum": 0.5, "type": "quantitative", "axis": null}}},
  {"data": {"values": [{}]}, "mark": {"type": "rule", "color": "#d6d6d6", "strokeWidth": 1}, "encoding": {"y": {"datum": 0.5, "type": "quantitative", "axis": null}}},
  {"data": {"values": [{}]}, "mark": {"type": "rule", "color": "#b0b0b0", "strokeWidth": 0.8, "strokeDash": [3, 2]}, "encoding": {"x": {"datum": 0, "type": "quantitative", "axis": null}, "y": {"datum": 0, "type": "quantitative", "axis": null}, "x2": {"datum": 1}, "y2": {"datum": 1}}},
  {"data": {"name": "curve"}, "transform": [{"filter": "datum.k === 'ds'"}], "mark": {"type": "area", "interpolate": "monotone", "color": "#cc3d50", "stroke": "#cc3d50", "strokeWidth": 0.6, "clip": true},
   "encoding": {"x": {"field": "x", "type": "quantitative", "axis": null}, "y": {"field": "lo", "type": "quantitative", "axis": null}, "y2": {"field": "hi"}}},
  {"data": {"name": "marker"}, "transform": [{"filter": "datum.k === 'ds'"}], "mark": {"type": "point", "shape": "M-1,-1L1,1M1,-1L-1,1", "filled": false, "stroke": "#000000", "strokeWidth": 1.3, "size": 56, "opacity": 1},
   "encoding": {"x": {"field": "x", "type": "quantitative", "axis": null}, "y": {"field": "y", "type": "quantitative", "axis": null}}},
  {"data": {"name": "marker"}, "transform": [{"filter": "datum.k === 'ds'"}], "mark": {"type": "text", "align": "left", "baseline": "middle", "fontSize": 15, "color": "#262626", "font": "Liberation Serif"},
   "encoding": {"x": {"datum": 0.05, "type": "quantitative", "axis": null}, "y": {"datum": 0.92, "type": "quantitative", "axis": null}, "text": {"field": "label"}}}
 ]},
{"width": 128.5, "height": 129, "title": {"text": "instruct-cot", "subtitle": " ", "color": "#eba73a", "font": "Liberation Serif", "subtitleFont": "Liberation Serif"},
 "layer": [
  {"data": {"name": "hist"}, "transform": [{"filter": "datum.k === 'dt'"}], "mark": {"type": "rect", "fill": "#d4d4d4", "stroke": "#a8a8a8", "strokeWidth": 0.6},
   "encoding": {"x": {"field": "x0", "type": "quantitative", "scale": {"domain": [0, 1], "nice": false}, "axis": null}, "x2": {"field": "x1"}, "y": {"field": "h", "type": "quantitative", "scale": {"domain": [0, 1], "nice": false}, "axis": null}, "y2": {"datum": 0}}},
  {"data": {"name": "hist"}, "transform": [{"filter": "datum.k === 'dt'"}], "mark": {"type": "rect", "fill": "#c0c0c0", "stroke": "#9c9c9c", "strokeWidth": 0.5},
   "encoding": {"x": {"field": "x0", "type": "quantitative", "axis": null}, "x2": {"field": "x1"}, "y": {"field": "d", "type": "quantitative", "axis": null}, "y2": {"datum": 0}}},
  {"data": {"values": [{}]}, "mark": {"type": "rule", "color": "#d6d6d6", "strokeWidth": 1}, "encoding": {"x": {"datum": 0.5, "type": "quantitative", "axis": null}}},
  {"data": {"values": [{}]}, "mark": {"type": "rule", "color": "#d6d6d6", "strokeWidth": 1}, "encoding": {"y": {"datum": 0.5, "type": "quantitative", "axis": null}}},
  {"data": {"values": [{}]}, "mark": {"type": "rule", "color": "#b0b0b0", "strokeWidth": 0.8, "strokeDash": [3, 2]}, "encoding": {"x": {"datum": 0, "type": "quantitative", "axis": null}, "y": {"datum": 0, "type": "quantitative", "axis": null}, "x2": {"datum": 1}, "y2": {"datum": 1}}},
  {"data": {"name": "curve"}, "transform": [{"filter": "datum.k === 'dt'"}], "mark": {"type": "area", "interpolate": "monotone", "color": "#eba73a", "stroke": "#eba73a", "strokeWidth": 0.6, "clip": true},
   "encoding": {"x": {"field": "x", "type": "quantitative", "axis": null}, "y": {"field": "lo", "type": "quantitative", "axis": null}, "y2": {"field": "hi"}}},
  {"data": {"name": "marker"}, "transform": [{"filter": "datum.k === 'dt'"}], "mark": {"type": "point", "shape": "M-1,-1L1,1M1,-1L-1,1", "filled": false, "stroke": "#000000", "strokeWidth": 1.3, "size": 56, "opacity": 1},
   "encoding": {"x": {"field": "x", "type": "quantitative", "axis": null}, "y": {"field": "y", "type": "quantitative", "axis": null}}},
  {"data": {"name": "marker"}, "transform": [{"filter": "datum.k === 'dt'"}], "mark": {"type": "text", "align": "left", "baseline": "middle", "fontSize": 15, "color": "#262626", "font": "Liberation Serif"},
   "encoding": {"x": {"datum": 0.05, "type": "quantitative", "axis": null}, "y": {"datum": 0.92, "type": "quantitative", "axis": null}, "text": {"field": "label"}}}
 ]},
{"width": 128.5, "height": 129,
 "layer": [
  {"data": {"name": "hist"}, "transform": [{"filter": "datum.k === 'bc'"}], "mark": {"type": "rect", "fill": "#d4d4d4", "stroke": "#a8a8a8", "strokeWidth": 0.6},
   "encoding": {"x": {"field": "x0", "type": "quantitative", "scale": {"domain": [0, 1], "nice": false}, "axis": {"values": [0, 0.5, 1], "format": ".1f", "title": "Semantic Confidence", "ticks": false, "domain": false, "grid": false, "labelPadding": 4, "titlePadding": 2, "labelFlush": false}}, "x2": {"field": "x1"},
    "y": {"field": "h", "type": "quantitative", "scale": {"domain": [0, 1], "nice": false}, "axis": {"values": [0, 0.5, 1], "format": ".1f", "title": "Semantic Accuracy", "ticks": false, "domain": false, "grid": false, "labelPadding": 4, "titlePadding": 5, "labelFlush": false}}, "y2": {"datum": 0}}},
  {"data": {"name": "hist"}, "transform": [{"filter": "datum.k === 'bc'"}], "mark": {"type": "rect", "fill": "#c0c0c0", "stroke": "#9c9c9c", "strokeWidth": 0.5},
   "encoding": {"x": {"field": "x0", "type": "quantitative"}, "x2": {"field": "x1"}, "y": {"field": "d", "type": "quantitative"}, "y2": {"datum": 0}}},
  {"data": {"values": [{}]}, "mark": {"type": "rule", "color": "#d6d6d6", "strokeWidth": 1}, "encoding": {"x": {"datum": 0.5, "type": "quantitative"}}},
  {"data": {"values": [{}]}, "mark": {"type": "rule", "color": "#d6d6d6", "strokeWidth": 1}, "encoding": {"y": {"datum": 0.5, "type": "quantitative"}}},
  {"data": {"values": [{}]}, "mark": {"type": "rule", "color": "#b0b0b0", "strokeWidth": 0.8, "strokeDash": [3, 2]}, "encoding": {"x": {"datum": 0, "type": "quantitative"}, "y": {"datum": 0, "type": "quantitative"}, "x2": {"datum": 1}, "y2": {"datum": 1}}},
  {"data": {"name": "curve"}, "transform": [{"filter": "datum.k === 'bc'"}], "mark": {"type": "area", "interpolate": "monotone", "color": "#4a89b9", "stroke": "#4a89b9", "strokeWidth": 0.6, "clip": true},
   "encoding": {"x": {"field": "x", "type": "quantitative"}, "y": {"field": "lo", "type": "quantitative"}, "y2": {"field": "hi"}}},
  {"data": {"name": "marker"}, "transform": [{"filter": "datum.k === 'bc'"}], "mark": {"type": "point", "shape": "M-1,-1L1,1M1,-1L-1,1", "filled": false, "stroke": "#000000", "strokeWidth": 1.3, "size": 56, "opacity": 1},
   "encoding": {"x": {"field": "x", "type": "quantitative"}, "y": {"field": "y", "type": "quantitative"}}},
  {"data": {"name": "marker"}, "transform": [{"filter": "datum.k === 'bc'"}], "mark": {"type": "text", "align": "left", "baseline": "middle", "fontSize": 15, "color": "#262626", "font": "Liberation Serif"},
   "encoding": {"x": {"datum": 0.05, "type": "quantitative"}, "y": {"datum": 0.92, "type": "quantitative"}, "text": {"field": "label"}}}
 ]},
{"width": 128.5, "height": 129, "title": {"text": "Mistral-7B-v0.1", "font": "Liberation Serif", "offset": 8},
 "layer": [
  {"data": {"name": "hist"}, "transform": [{"filter": "datum.k === 'bs'"}], "mark": {"type": "rect", "fill": "#d4d4d4", "stroke": "#a8a8a8", "strokeWidth": 0.6},
   "encoding": {"x": {"field": "x0", "type": "quantitative", "scale": {"domain": [0, 1], "nice": false}, "axis": {"values": [0, 0.5, 1], "format": ".1f", "title": "Semantic Confidence", "ticks": false, "domain": false, "grid": false, "labelPadding": 4, "titlePadding": 2, "labelFlush": false}}, "x2": {"field": "x1"},
    "y": {"field": "h", "type": "quantitative", "scale": {"domain": [0, 1], "nice": false}, "axis": null}, "y2": {"datum": 0}}},
  {"data": {"name": "hist"}, "transform": [{"filter": "datum.k === 'bs'"}], "mark": {"type": "rect", "fill": "#c0c0c0", "stroke": "#9c9c9c", "strokeWidth": 0.5},
   "encoding": {"x": {"field": "x0", "type": "quantitative"}, "x2": {"field": "x1"}, "y": {"field": "d", "type": "quantitative", "axis": null}, "y2": {"datum": 0}}},
  {"data": {"values": [{}]}, "mark": {"type": "rule", "color": "#d6d6d6", "strokeWidth": 1}, "encoding": {"x": {"datum": 0.5, "type": "quantitative"}}},
  {"data": {"values": [{}]}, "mark": {"type": "rule", "color": "#d6d6d6", "strokeWidth": 1}, "encoding": {"y": {"datum": 0.5, "type": "quantitative", "axis": null}}},
  {"data": {"values": [{}]}, "mark": {"type": "rule", "color": "#b0b0b0", "strokeWidth": 0.8, "strokeDash": [3, 2]}, "encoding": {"x": {"datum": 0, "type": "quantitative"}, "y": {"datum": 0, "type": "quantitative", "axis": null}, "x2": {"datum": 1}, "y2": {"datum": 1}}},
  {"data": {"name": "curve"}, "transform": [{"filter": "datum.k === 'bs'"}], "mark": {"type": "area", "interpolate": "monotone", "color": "#3f9a5c", "stroke": "#3f9a5c", "strokeWidth": 0.6, "clip": true},
   "encoding": {"x": {"field": "x", "type": "quantitative"}, "y": {"field": "lo", "type": "quantitative", "axis": null}, "y2": {"field": "hi"}}},
  {"data": {"name": "marker"}, "transform": [{"filter": "datum.k === 'bs'"}], "mark": {"type": "point", "shape": "M-1,-1L1,1M1,-1L-1,1", "filled": false, "stroke": "#000000", "strokeWidth": 1.3, "size": 56, "opacity": 1},
   "encoding": {"x": {"field": "x", "type": "quantitative"}, "y": {"field": "y", "type": "quantitative", "axis": null}}},
  {"data": {"name": "marker"}, "transform": [{"filter": "datum.k === 'bs'"}], "mark": {"type": "text", "align": "left", "baseline": "middle", "fontSize": 15, "color": "#262626", "font": "Liberation Serif"},
   "encoding": {"x": {"datum": 0.05, "type": "quantitative"}, "y": {"datum": 0.92, "type": "quantitative", "axis": null}, "text": {"field": "label"}}}
 ]},
{"width": 128.5, "height": 129,
 "layer": [
  {"data": {"name": "hist"}, "transform": [{"filter": "datum.k === 'bt2'"}], "mark": {"type": "rect", "fill": "#d4d4d4", "stroke": "#a8a8a8", "strokeWidth": 0.6},
   "encoding": {"x": {"field": "x0", "type": "quantitative", "scale": {"domain": [0, 1], "nice": false}, "axis": {"values": [0, 0.5, 1], "format": ".1f", "title": "Semantic Confidence", "ticks": false, "domain": false, "grid": false, "labelPadding": 4, "titlePadding": 2, "labelFlush": false}}, "x2": {"field": "x1"},
    "y": {"field": "h", "type": "quantitative", "scale": {"domain": [0, 1], "nice": false}, "axis": null}, "y2": {"datum": 0}}},
  {"data": {"name": "hist"}, "transform": [{"filter": "datum.k === 'bt2'"}], "mark": {"type": "rect", "fill": "#c0c0c0", "stroke": "#9c9c9c", "strokeWidth": 0.5},
   "encoding": {"x": {"field": "x0", "type": "quantitative"}, "x2": {"field": "x1"}, "y": {"field": "d", "type": "quantitative", "axis": null}, "y2": {"datum": 0}}},
  {"data": {"values": [{}]}, "mark": {"type": "rule", "color": "#d6d6d6", "strokeWidth": 1}, "encoding": {"x": {"datum": 0.5, "type": "quantitative"}}},
  {"data": {"values": [{}]}, "mark": {"type": "rule", "color": "#d6d6d6", "strokeWidth": 1}, "encoding": {"y": {"datum": 0.5, "type": "quantitative", "axis": null}}},
  {"data": {"values": [{}]}, "mark": {"type": "rule", "color": "#b0b0b0", "strokeWidth": 0.8, "strokeDash": [3, 2]}, "encoding": {"x": {"datum": 0, "type": "quantitative"}, "y": {"datum": 0, "type": "quantitative", "axis": null}, "x2": {"datum": 1}, "y2": {"datum": 1}}},
  {"data": {"name": "curve"}, "transform": [{"filter": "datum.k === 'bt'"}], "mark": {"type": "area", "interpolate": "monotone", "color": "#7c6fb4", "stroke": "#7c6fb4", "strokeWidth": 0.6, "clip": true},
   "encoding": {"x": {"field": "x", "type": "quantitative"}, "y": {"field": "lo", "type": "quantitative", "axis": null}, "y2": {"field": "hi"}}},
  {"data": {"name": "marker"}, "transform": [{"filter": "datum.k === 'bt'"}], "mark": {"type": "point", "shape": "M-1,-1L1,1M1,-1L-1,1", "filled": false, "stroke": "#000000", "strokeWidth": 1.3, "size": 56, "opacity": 1},
   "encoding": {"x": {"field": "x", "type": "quantitative"}, "y": {"field": "y", "type": "quantitative", "axis": null}}},
  {"data": {"name": "marker"}, "transform": [{"filter": "datum.k === 'bt'"}], "mark": {"type": "text", "align": "left", "baseline": "middle", "fontSize": 15, "color": "#262626", "font": "Liberation Serif"},
   "encoding": {"x": {"datum": 0.05, "type": "quantitative"}, "y": {"datum": 0.92, "type": "quantitative", "axis": null}, "text": {"field": "label"}}}
 ]},
{"width": 4.5, "height": 129, "view": {"stroke": null}, "data": {"values": [{"t": ""}]}, "mark": {"type": "text"}, "encoding": {"text": {"field": "t"}}},
{"width": 128.5, "height": 129,
 "layer": [
  {"data": {"name": "hist"}, "transform": [{"filter": "datum.k === 'sc'"}], "mark": {"type": "rect", "fill": "#d4d4d4", "stroke": "#a8a8a8", "strokeWidth": 0.6},
   "encoding": {"x": {"field": "x0", "type": "quantitative", "scale": {"domain": [0, 1], "nice": false}, "axis": {"values": [0, 0.5, 1], "format": ".1f", "title": "Semantic Confidence", "ticks": false, "domain": false, "grid": false, "labelPadding": 4, "titlePadding": 2, "labelFlush": false}}, "x2": {"field": "x1"},
    "y": {"field": "h", "type": "quantitative", "scale": {"domain": [0, 1], "nice": false}, "axis": null}, "y2": {"datum": 0}}},
  {"data": {"name": "hist"}, "transform": [{"filter": "datum.k === 'sc'"}], "mark": {"type": "rect", "fill": "#c0c0c0", "stroke": "#9c9c9c", "strokeWidth": 0.5},
   "encoding": {"x": {"field": "x0", "type": "quantitative"}, "x2": {"field": "x1"}, "y": {"field": "d", "type": "quantitative", "axis": null}, "y2": {"datum": 0}}},
  {"data": {"values": [{}]}, "mark": {"type": "rule", "color": "#d6d6d6", "strokeWidth": 1}, "encoding": {"x": {"datum": 0.5, "type": "quantitative"}}},
  {"data": {"values": [{}]}, "mark": {"type": "rule", "color": "#d6d6d6", "strokeWidth": 1}, "encoding": {"y": {"datum": 0.5, "type": "quantitative", "axis": null}}},
  {"data": {"values": [{}]}, "mark": {"type": "rule", "color": "#b0b0b0", "strokeWidth": 0.8, "strokeDash": [3, 2]}, "encoding": {"x": {"datum": 0, "type": "quantitative"}, "y": {"datum": 0, "type": "quantitative", "axis": null}, "x2": {"datum": 1}, "y2": {"datum": 1}}},
  {"data": {"name": "curve"}, "transform": [{"filter": "datum.k === 'sc'"}], "mark": {"type": "area", "interpolate": "monotone", "color": "#ee7a45", "stroke": "#ee7a45", "strokeWidth": 0.6, "clip": true},
   "encoding": {"x": {"field": "x", "type": "quantitative"}, "y": {"field": "lo", "type": "quantitative", "axis": null}, "y2": {"field": "hi"}}},
  {"data": {"name": "marker"}, "transform": [{"filter": "datum.k === 'sc'"}], "mark": {"type": "point", "shape": "M-1,-1L1,1M1,-1L-1,1", "filled": false, "stroke": "#000000", "strokeWidth": 1.3, "size": 56, "opacity": 1},
   "encoding": {"x": {"field": "x", "type": "quantitative"}, "y": {"field": "y", "type": "quantitative", "axis": null}}},
  {"data": {"name": "marker"}, "transform": [{"filter": "datum.k === 'sc'"}], "mark": {"type": "text", "align": "left", "baseline": "middle", "fontSize": 15, "color": "#262626", "font": "Liberation Serif"},
   "encoding": {"x": {"datum": 0.05, "type": "quantitative"}, "y": {"datum": 0.92, "type": "quantitative", "axis": null}, "text": {"field": "label"}}}
 ]},
{"width": 128.5, "height": 129, "title": {"text": "zephyr-7b-sft-full", "font": "Liberation Serif", "offset": 8},
 "layer": [
  {"data": {"name": "hist"}, "transform": [{"filter": "datum.k === 'ss'"}], "mark": {"type": "rect", "fill": "#d4d4d4", "stroke": "#a8a8a8", "strokeWidth": 0.6},
   "encoding": {"x": {"field": "x0", "type": "quantitative", "scale": {"domain": [0, 1], "nice": false}, "axis": {"values": [0, 0.5, 1], "format": ".1f", "title": "Semantic Confidence", "ticks": false, "domain": false, "grid": false, "labelPadding": 4, "titlePadding": 2, "labelFlush": false}}, "x2": {"field": "x1"},
    "y": {"field": "h", "type": "quantitative", "scale": {"domain": [0, 1], "nice": false}, "axis": null}, "y2": {"datum": 0}}},
  {"data": {"name": "hist"}, "transform": [{"filter": "datum.k === 'ss'"}], "mark": {"type": "rect", "fill": "#c0c0c0", "stroke": "#9c9c9c", "strokeWidth": 0.5},
   "encoding": {"x": {"field": "x0", "type": "quantitative"}, "x2": {"field": "x1"}, "y": {"field": "d", "type": "quantitative", "axis": null}, "y2": {"datum": 0}}},
  {"data": {"values": [{}]}, "mark": {"type": "rule", "color": "#d6d6d6", "strokeWidth": 1}, "encoding": {"x": {"datum": 0.5, "type": "quantitative"}}},
  {"data": {"values": [{}]}, "mark": {"type": "rule", "color": "#d6d6d6", "strokeWidth": 1}, "encoding": {"y": {"datum": 0.5, "type": "quantitative", "axis": null}}},
  {"data": {"values": [{}]}, "mark": {"type": "rule", "color": "#b0b0b0", "strokeWidth": 0.8, "strokeDash": [3, 2]}, "encoding": {"x": {"datum": 0, "type": "quantitative"}, "y": {"datum": 0, "type": "quantitative", "axis": null}, "x2": {"datum": 1}, "y2": {"datum": 1}}},
  {"data": {"name": "curve"}, "transform": [{"filter": "datum.k === 'ss'"}], "mark": {"type": "area", "interpolate": "monotone", "color": "#cc3d50", "stroke": "#cc3d50", "strokeWidth": 0.6, "clip": true},
   "encoding": {"x": {"field": "x", "type": "quantitative"}, "y": {"field": "lo", "type": "quantitative", "axis": null}, "y2": {"field": "hi"}}},
  {"data": {"name": "marker"}, "transform": [{"filter": "datum.k === 'ss'"}], "mark": {"type": "point", "shape": "M-1,-1L1,1M1,-1L-1,1", "filled": false, "stroke": "#000000", "strokeWidth": 1.3, "size": 56, "opacity": 1},
   "encoding": {"x": {"field": "x", "type": "quantitative"}, "y": {"field": "y", "type": "quantitative", "axis": null}}},
  {"data": {"name": "marker"}, "transform": [{"filter": "datum.k === 'ss'"}], "mark": {"type": "text", "align": "left", "baseline": "middle", "fontSize": 15, "color": "#262626", "font": "Liberation Serif"},
   "encoding": {"x": {"datum": 0.05, "type": "quantitative"}, "y": {"datum": 0.92, "type": "quantitative", "axis": null}, "text": {"field": "label"}}}
 ]},
{"width": 128.5, "height": 129,
 "layer": [
  {"data": {"name": "hist"}, "transform": [{"filter": "datum.k === 'st'"}], "mark": {"type": "rect", "fill": "#d4d4d4", "stroke": "#a8a8a8", "strokeWidth": 0.6},
   "encoding": {"x": {"field": "x0", "type": "quantitative", "scale": {"domain": [0, 1], "nice": false}, "axis": {"values": [0, 0.5, 1], "format": ".1f", "title": "Semantic Confidence", "ticks": false, "domain": false, "grid": false, "labelPadding": 4, "titlePadding": 2, "labelFlush": false}}, "x2": {"field": "x1"},
    "y": {"field": "h", "type": "quantitative", "scale": {"domain": [0, 1], "nice": false}, "axis": null}, "y2": {"datum": 0}}},
  {"data": {"name": "hist"}, "transform": [{"filter": "datum.k === 'st'"}], "mark": {"type": "rect", "fill": "#c0c0c0", "stroke": "#9c9c9c", "strokeWidth": 0.5},
   "encoding": {"x": {"field": "x0", "type": "quantitative"}, "x2": {"field": "x1"}, "y": {"field": "d", "type": "quantitative", "axis": null}, "y2": {"datum": 0}}},
  {"data": {"values": [{}]}, "mark": {"type": "rule", "color": "#d6d6d6", "strokeWidth": 1}, "encoding": {"x": {"datum": 0.5, "type": "quantitative"}}},
  {"data": {"values": [{}]}, "mark": {"type": "rule", "color": "#d6d6d6", "strokeWidth": 1}, "encoding": {"y": {"datum": 0.5, "type": "quantitative", "axis": null}}},
  {"data": {"values": [{}]}, "mark": {"type": "rule", "color": "#b0b0b0", "strokeWidth": 0.8, "strokeDash": [3, 2]}, "encoding": {"x": {"datum": 0, "type": "quantitative"}, "y": {"datum": 0, "type": "quantitative", "axis": null}, "x2": {"datum": 1}, "y2": {"datum": 1}}},
  {"data": {"name": "curve"}, "transform": [{"filter": "datum.k === 'st'"}], "mark": {"type": "area", "interpolate": "monotone", "color": "#eba73a", "stroke": "#eba73a", "strokeWidth": 0.6, "clip": true},
   "encoding": {"x": {"field": "x", "type": "quantitative"}, "y": {"field": "lo", "type": "quantitative", "axis": null}, "y2": {"field": "hi"}}},
  {"data": {"name": "marker"}, "transform": [{"filter": "datum.k === 'st'"}], "mark": {"type": "point", "shape": "M-1,-1L1,1M1,-1L-1,1", "filled": false, "stroke": "#000000", "strokeWidth": 1.3, "size": 56, "opacity": 1},
   "encoding": {"x": {"field": "x", "type": "quantitative"}, "y": {"field": "y", "type": "quantitative", "axis": null}}},
  {"data": {"name": "marker"}, "transform": [{"filter": "datum.k === 'st'"}], "mark": {"type": "text", "align": "left", "baseline": "middle", "fontSize": 15, "color": "#262626", "font": "Liberation Serif"},
   "encoding": {"x": {"datum": 0.05, "type": "quantitative"}, "y": {"datum": 0.92, "type": "quantitative", "axis": null}, "text": {"field": "label"}}}
 ]}
],
"config": {
 "font": "Liberation Serif",
 "text": {"font": "Liberation Serif"},
 "view": {"stroke": "#8c8c8c", "strokeWidth": 1.5},
 "title": {"fontSize": 19, "subtitleFontSize": 19, "fontWeight": "normal", "subtitleFontWeight": "normal", "color": "#262626", "subtitleColor": "#262626", "anchor": "middle", "offset": 11, "subtitlePadding": 2, "font": "Liberation Serif", "subtitleFont": "Liberation Serif"},
 "axis": {"labelFontSize": 15, "titleFontSize": 16, "labelColor": "#262626", "titleColor": "#262626", "titleFontWeight": "normal", "labelFont": "Liberation Serif", "titleFont": "Liberation Serif"}
}
}
